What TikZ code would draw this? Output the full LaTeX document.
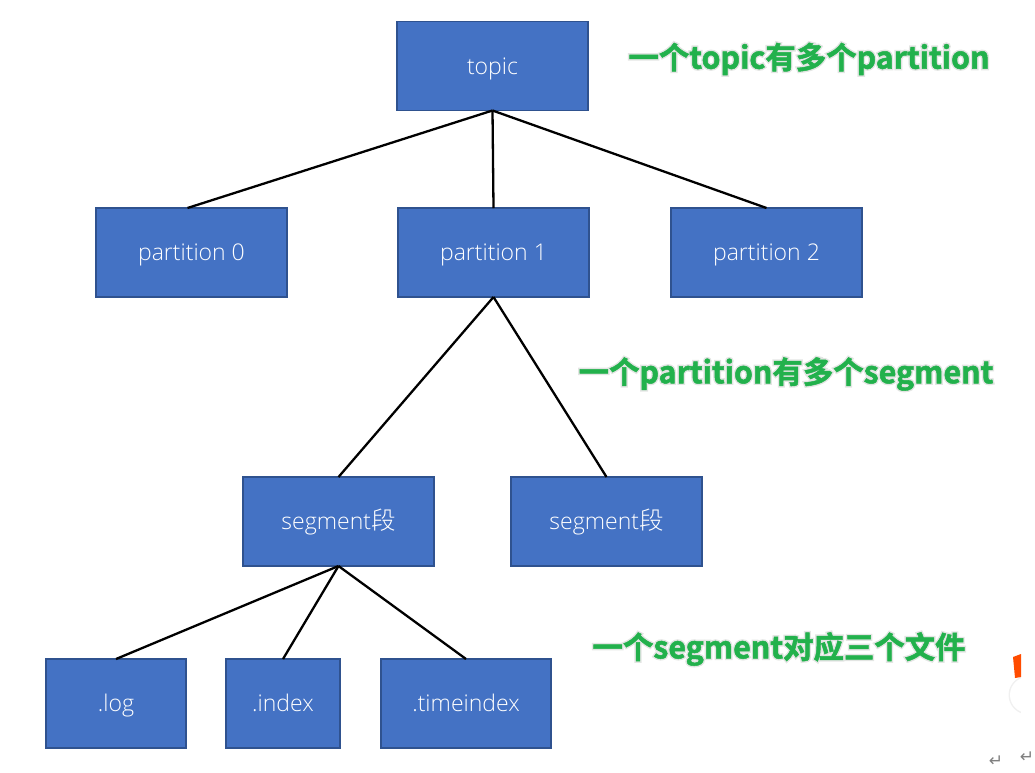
\documentclass[tikz,border=0pt]{standalone}
\usepackage{fontspec}
\setmainfont{Open Sans Light}[BoldFont=Open Sans]
\newfontfamily\boxcjk{Noto Sans CJK SC Light}
\newfontfamily\notecjk{Noto Sans CJK SC Bold}
\newfontfamily\retfont{DejaVu Sans}
\usetikzlibrary{positioning}
\definecolor{boxfill}{HTML}{4472C4}
\definecolor{boxline}{HTML}{2F528F}
\definecolor{notegreen}{HTML}{22B14C}
% pale outline under the green text
\newcommand{\glowtext}[1]{%
    \rlap{\special{pdf:code 2 Tr 3.4 w 0.89 0.90 0.89 RG}#1\special{pdf:code 0 Tr}}%
    \special{pdf:code 2 Tr 0.5 w 0.133 0.694 0.298 RG}#1\special{pdf:code 0 Tr 0 G}}
\tikzset{
    block/.style={rectangle,draw=boxline,line width=1.6pt,fill=boxfill,text=white,
        minimum width=191pt,minimum height=89pt,inner sep=0pt,outer sep=0pt,
        text height=19pt,text depth=3pt,
        font=\fontsize{23}{27}\selectfont},
    filebox/.style={block,minimum width=#1},
    link/.style={-,black,line width=2.3pt},
    note/.style={inner sep=0pt,text=notegreen,font=\notecjk\fontsize{30.4}{34}\selectfont},
    retmark/.style={inner sep=0pt,text=black!50,font=\retfont\fontsize{17}{20}\selectfont}
}

\begin{document}
\begin{tikzpicture}[x=1pt,y=1pt]

    \useasboundingbox (0,0) rectangle (1035,-772);
    \clip (0,0) rectangle (1035,-772);

    % tree
    \node[block] (topic) at (492.5,-66) {topic};
    \node[block] (partition 1) [below=97.5pt of topic, xshift=1pt] {partition 1};
    \node[block] (partition 0) [left=111pt of partition 1]         {partition 0};
    \node[block] (partition 2) [right=82pt of partition 1]         {partition 2};

    \node[block] (seg a) [below=180pt of partition 1, xshift=-155pt] {segment{\boxcjk\fontsize{24.5}{27}\selectfont 段}};
    \node[block] (seg b) [right=77pt of seg a]                       {segment{\boxcjk\fontsize{24.5}{27}\selectfont 段}};

    \node[filebox=140pt] (log)       [below=93pt of seg a, xshift=-222.5pt] {.log};
    \node[filebox=114pt] (index)     [right=40pt of log]                    {.index};
    \node[filebox=170pt] (timeindex) [right=41pt of index]                  {.timeindex};

    \draw[link] (topic.south) -- ([xshift=-4pt]partition 0.north);
    \draw[link] (topic.south) -- (partition 1.north);
    \draw[link] (topic.south) -- (partition 2.north);
    \draw[link] (partition 1.south) -- (seg a.north);
    \draw[link] (partition 1.south) -- (seg b.north);
    \foreach \leaf in {log,index,timeindex}
        \draw[link] (seg a.south) -- (\leaf.north);

    % green notes
    \node[note] (note topic)     at (809,-59)  {\glowtext{一个topic有多个partition}};
    \node[note] (note partition) at (786,-374) {\glowtext{一个partition有多个segment}};
    \node[note] (note segment)   at (779,-649) {\glowtext{一个segment对应三个文件}};

    % corner of the screenshot
    \fill[black!6] (1028,-695) circle (19.5);
    \fill[white] (1028,-695) circle (18);
    \fill[white] (1021,-660) rectangle (1035,-772);
    \fill[orange!60!red] (1013,-657) -- (1021,-654) -- (1021,-677) -- (1015,-678) -- cycle;
    \node[retmark] (ret a) at (996,-761) {↵};
    \node[retmark] (ret b) at (1027,-757) {↵};

\end{tikzpicture}
\end{document}
